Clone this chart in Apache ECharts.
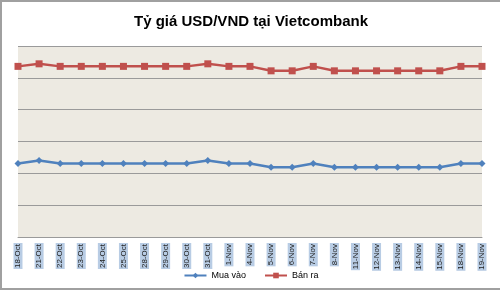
<!DOCTYPE html>
<html><head><meta charset="utf-8">
<script src="https://cdn.jsdelivr.net/npm/echarts@6/dist/echarts.min.js"></script>
<style>
html,body{margin:0;padding:0;background:#fff;}
#c{width:500px;height:290px;box-sizing:border-box;border:2px solid #a0a0a0;border-right:none;}
</style></head>
<body><div id="c"></div>
<script>
const categories = ['18-Oct','21-Oct','22-Oct','23-Oct','24-Oct','25-Oct','28-Oct','29-Oct','30-Oct','31-Oct','1-Nov','4-Nov','5-Nov','6-Nov','7-Nov','8-Nov','11-Nov','12-Nov','13-Nov','14-Nov','15-Nov','18-Nov','19-Nov'];
const muaVao = [21083.1,21084.0,21083.1,21083.1,21083.1,21083.1,21083.1,21083.1,21083.1,21084.0,21083.1,21083.1,21081.9,21081.9,21083.1,21081.9,21081.9,21081.9,21081.9,21081.9,21081.9,21083.1,21083.1];
const banRa = [21113.6,21114.4,21113.6,21113.6,21113.6,21113.6,21113.6,21113.6,21113.6,21114.4,21113.6,21113.6,21112.2,21112.2,21113.6,21112.2,21112.2,21112.2,21112.2,21112.2,21112.2,21113.6,21113.6];
const yMin = 21060, yMax = 21120, yStep = 10;

const chart = echarts.init(document.getElementById('c'), null, {renderer:'canvas'});
chart.setOption({
  animation:false,
  backgroundColor:'#fff',
  title:{text:'Tỷ giá USD/VND tại Vietcombank',left:'center',top:7,
    textStyle:{fontFamily:'Liberation Sans',fontWeight:'bold',fontSize:15,color:'#000'}},
  grid:{left:16,right:18,top:44,bottom:51,show:true,backgroundColor:'#EDEAE2',borderWidth:0},
  legend:{bottom:3,left:'center',itemWidth:22,itemHeight:7,itemGap:18,
    textStyle:{fontFamily:'Liberation Sans',fontSize:9,color:'#000'},
    data:['Mua vào','Bán ra']},
  xAxis:{type:'category',data:categories,boundaryGap:false,
    axisLine:{show:true,lineStyle:{color:'#9a9a9a',width:1}},
    axisTick:{show:false},
    axisLabel:{rotate:90,interval:0,margin:6,fontFamily:'Liberation Sans',fontSize:8,color:'#222',
      backgroundColor:'#B8CCE4',padding:[1,1,0,1]}},
  yAxis:{type:'value',min:yMin,max:yMax,interval:yStep,
    axisLabel:{show:false},axisLine:{show:false},axisTick:{show:false},
    splitLine:{show:true,lineStyle:{color:'#9a9a9a',width:1}}},
  series:[
    {name:'Mua vào',type:'line',data:muaVao,symbol:'diamond',symbolSize:7,
      itemStyle:{color:'#4F81BD'},lineStyle:{color:'#4F81BD',width:2.5}},
    {name:'Bán ra',type:'line',data:banRa,symbol:'rect',symbolSize:7,
      itemStyle:{color:'#C0504D'},lineStyle:{color:'#C0504D',width:2.5}}
  ]
});
</script></body></html>
